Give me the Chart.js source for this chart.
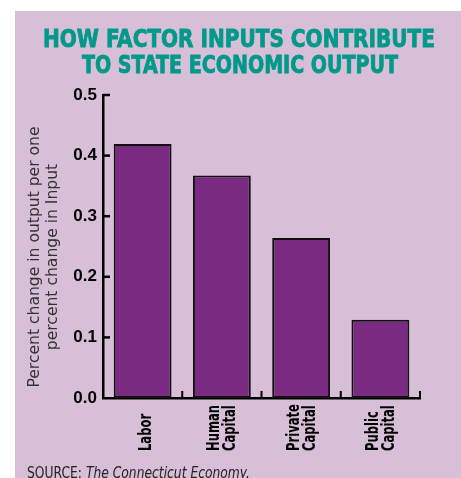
<!DOCTYPE html>
<html>
<head>
<meta charset="utf-8">
<script src="https://cdn.jsdelivr.net/npm/chart.js@4.4.1/dist/chart.umd.min.js"></script>
<style>
  html, body { margin: 0; padding: 0; background: #fff; }
  #wrap { position: relative; width: 461px; height: 478px; }
</style>
</head>
<body>
<div id="wrap"><canvas id="chart"></canvas></div>
<script>
var categories = [['Labor'], ['Human', 'Capital'], ['Private', 'Capital'], ['Public', 'Capital']];
var values = [0.419, 0.367, 0.264, 0.129];
var yTicks = [0.0, 0.1, 0.2, 0.3, 0.4, 0.5];
var titleLines = ['HOW FACTOR INPUTS CONTRIBUTE', 'TO STATE ECONOMIC OUTPUT'];
var yTitleLines = ['Percent change in output per one', 'percent change in Input'];

var BG = '#d8bfd8';
var BAR = '#7a2a80';
var TEAL = '#00998a';
var NARROW = "'Liberation Sans Narrow', 'DejaVu Sans Condensed', 'Liberation Sans', sans-serif";

// draw text squeezed/stretched to a given width
function fitText(ctx, text, x, y, width, align, stroke) {
    var w = ctx.measureText(text).width;
    var s = width / w;
    ctx.save();
    ctx.translate(x, y);
    ctx.scale(s, 1);
    ctx.textAlign = align || 'left';
    ctx.fillText(text, 0, 0);
    if (stroke) ctx.strokeText(text, 0, 0);
    ctx.restore();
}

var decor = {
    id: 'decor',
    beforeDraw: function(chart) {
        var ctx = chart.ctx;
        ctx.save();
        ctx.fillStyle = '#fff';
        ctx.fillRect(0, 0, chart.width, chart.height);
        ctx.fillStyle = BG;
        ctx.fillRect(15, 11, chart.width - 15, chart.height - 11);

        // title
        ctx.fillStyle = TEAL;
        ctx.strokeStyle = TEAL;
        ctx.lineWidth = 0.8;
        ctx.font = 'bold 25px ' + NARROW;
        ctx.textBaseline = 'alphabetic';
        fitText(ctx, titleLines[0], 239, 47, 392, 'center', true);
        fitText(ctx, titleLines[1], 240, 73, 316, 'center', true);

        // y axis title
        ctx.fillStyle = '#333';
        ctx.font = '15px ' + NARROW;
        ctx.save();
        ctx.translate(0, 257);
        ctx.rotate(-Math.PI / 2);
        var s = 261 / ctx.measureText(yTitleLines[0]).width;
        ctx.scale(s, 1);
        ctx.textAlign = 'center';
        ctx.fillText(yTitleLines[0], 0, 38.5);
        ctx.fillText(yTitleLines[1], 0, 56.5);
        ctx.restore();

        // source
        ctx.fillStyle = '#222';
        ctx.font = '15px ' + NARROW;
        var a = 'SOURCE: ';
        var b = 'The Connecticut Economy.';
        var wa = ctx.measureText(a).width;
        ctx.font = 'italic 15px ' + NARROW;
        var wb = ctx.measureText(b).width;
        var k = 223 / (wa + wb);
        ctx.save();
        ctx.translate(27, 478);
        ctx.scale(k, 1);
        ctx.font = '15px ' + NARROW;
        ctx.fillText(a, 0, 0);
        ctx.font = 'italic 15px ' + NARROW;
        ctx.fillText(b, wa, 0);
        ctx.restore();
        ctx.restore();
    },
    afterDraw: function(chart) {
        var ctx = chart.ctx;
        var x = chart.scales.x, y = chart.scales.y;
        var area = chart.chartArea;
        ctx.save();
        ctx.strokeStyle = '#000';
        ctx.lineWidth = 2.5;
        // inward y ticks
        yTicks.forEach(function(v) {
            if (v === 0) return;
            var py = y.getPixelForValue(v);
            ctx.beginPath();
            ctx.moveTo(area.left, py);
            ctx.lineTo(area.left + 7, py);
            ctx.stroke();
        });
        // inward x ticks at category boundaries
        ctx.lineWidth = 2;
        for (var i = 0; i < categories.length; i++) {
            var px = x.getPixelForValue(i + 0.5);
            ctx.beginPath();
            ctx.moveTo(px, area.bottom);
            ctx.lineTo(px, area.bottom - 7);
            ctx.stroke();
        }
        // rotated category labels, bottom aligned
        ctx.fillStyle = '#000';
        ctx.font = 'bold 17px ' + NARROW;
        ctx.textAlign = 'left';
        ctx.textBaseline = 'alphabetic';
        var sx = 46 / ctx.measureText('Human').width;
        categories.forEach(function(lines, i) {
            var cx = x.getPixelForValue(i);
            var offs = lines.length === 1 ? [8] : [-2.5, 13.5];
            lines.forEach(function(t, j) {
                ctx.save();
                ctx.translate(cx + offs[j], 451);
                ctx.rotate(-Math.PI / 2);
                ctx.scale(sx, 1);
                ctx.fillText(t, 0, 0);
                ctx.restore();
            });
        });
        ctx.restore();
    }
};

new Chart(document.getElementById('chart'), {
    type: 'bar',
    data: {
        labels: categories,
        datasets: [{
            data: values,
            backgroundColor: BAR,
            borderColor: '#111',
            borderWidth: 2,
            borderSkipped: false,
            barPercentage: 0.73,
            categoryPercentage: 1
        }]
    },
    options: {
        responsive: true,
        maintainAspectRatio: false,
        animation: false,
        layout: { padding: { left: 0, top: 95, right: 41, bottom: 0 } },
        plugins: {
            legend: { display: false },
            tooltip: { enabled: false }
        },
        scales: {
            x: {
                grid: { display: false, drawTicks: false },
                border: { display: true, color: '#000', width: 2.5 },
                ticks: { display: false },
                afterFit: function(s) { s.height = 80; }
            },
            y: {
                min: 0,
                max: 0.5,
                grid: { display: false, drawTicks: false },
                border: { display: true, color: '#000', width: 2.5 },
                afterFit: function(s) { s.width = 103; },
                ticks: {
                    stepSize: 0.1,
                    padding: 6,
                    color: '#000',
                    font: { family: "'Liberation Sans', Arial, sans-serif", size: 17, weight: 'bold' },
                    callback: function(v) { return Number(v).toFixed(1); }
                }
            }
        }
    },
    plugins: [decor]
});
</script>
</body>
</html>
